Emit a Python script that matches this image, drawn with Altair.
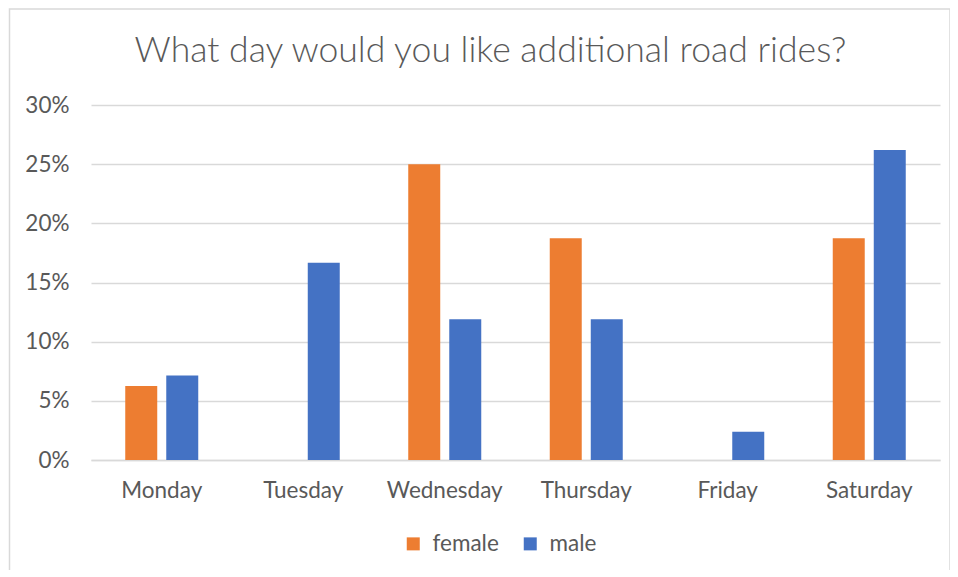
import altair as alt
import pandas as pd

days = ["Monday", "Tuesday", "Wednesday", "Thursday", "Friday", "Saturday"]
female = [0.0625, 0.0, 0.25, 0.1875, 0.0, 0.1875]
male = [0.0714, 0.1667, 0.119, 0.119, 0.0238, 0.2619]
series = ["female", "male"]
colors = ["#ED7D31", "#4472C4"]
y_ticks = [0, 0.05, 0.10, 0.15, 0.20, 0.25, 0.30]

rows = []
for d, f, m in zip(days, female, male):
    rows.append({"day": d, "gender": "female", "value": f})
    rows.append({"day": d, "gender": "male", "value": m})
df = pd.DataFrame(rows)

FONT = "Lato"
FS = 22.5
W, H = 849, 355

bars = alt.Chart(df).mark_bar().encode(
    x=alt.X("day:N", sort=days, title=None,
            scale=alt.Scale(paddingInner=0, paddingOuter=0),
            axis=alt.Axis(labelAngle=0, labelFontSize=FS, labelColor="#595959",
                          labelFont=FONT, labelPadding=19, ticks=False,
                          domainColor="#D9D9D9", domainWidth=1.5)),
    xOffset=alt.XOffset("gender:N", sort=series,
                        scale=alt.Scale(paddingInner=0.22, paddingOuter=0.835)),
    y=alt.Y("value:Q", title=None,
            scale=alt.Scale(domain=[0, 0.3]),
            axis=alt.Axis(values=y_ticks, format=".0%", labelFontSize=FS,
                          labelColor="#595959", labelFont=FONT, labelPadding=22,
                          ticks=False, domain=False, gridColor="#D9D9D9",
                          gridWidth=1.5)),
    color=alt.Color("gender:N", sort=series,
                    scale=alt.Scale(domain=series, range=colors),
                    legend=alt.Legend(title=None, orient="none", direction="horizontal",
                                      legendX=311, legendY=427.5,
                                      symbolType="square", symbolSize=169,
                                      symbolStrokeWidth=0,
                                      labelFontSize=FS, labelColor="#595959",
                                      labelFont=FONT, labelOffset=8,
                                      columnPadding=20)),
)

border = alt.Chart(pd.DataFrame({"a": [0]})).mark_rect(
    fill=None, stroke="#D9D9D9", strokeWidth=1.5, clip=False
).encode(
    x=alt.value(-81.5), x2=alt.value(859), y=alt.value(-96), y2=alt.value(480)
)

chart = alt.layer(border, bars).properties(
    width=W, height=H,
    padding={"left": 83, "top": 97, "right": 10, "bottom": 110},
    autosize=alt.AutoSizeParams(type="none"),
    title=alt.TitleParams("What day would you like additional road rides?",
                          fontSize=35.6, font=FONT, fontWeight=300,
                          color="#595959", anchor="middle", dx=-25,
                          offset=-89, baseline="alphabetic"),
).configure_view(stroke=None)

chart.save("out.html", embed_options={"renderer": "svg", "actions": False})
